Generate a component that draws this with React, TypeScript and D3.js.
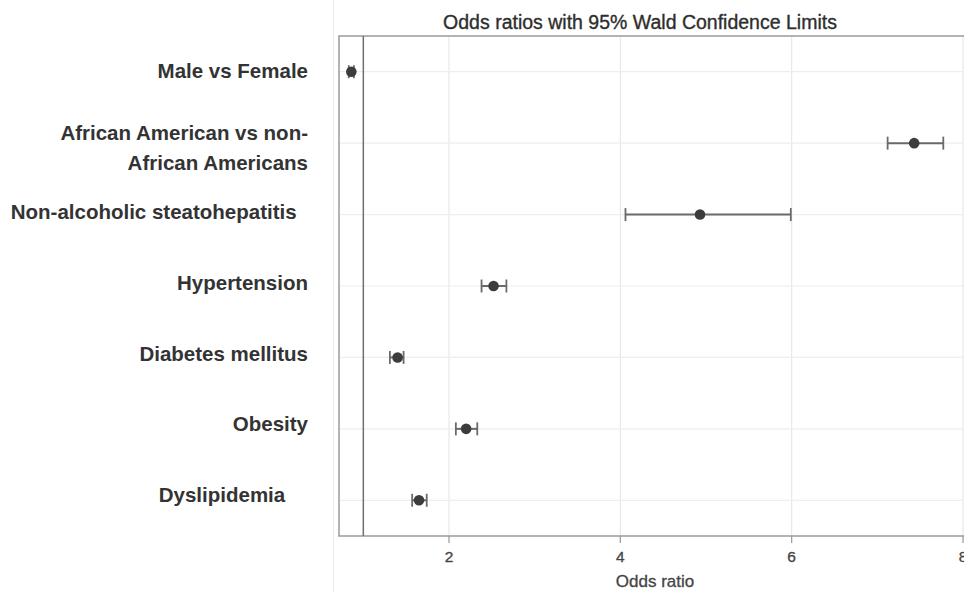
import React from "react";
import * as d3 from "d3";

const categories: string[][] = [
  ["Male vs Female"],
  ["African American vs non-", "African Americans"],
  ["Non-alcoholic steatohepatitis  "],
  ["Hypertension"],
  ["Diabetes mellitus"],
  ["Obesity"],
  ["Dyslipidemia    "],
];
const oddsRatio: number[] = [0.86, 7.43, 4.93, 2.52, 1.4, 2.2, 1.65];
const lowerCL: number[] = [0.83, 7.12, 4.06, 2.38, 1.31, 2.08, 1.57];
const upperCL: number[] = [0.89, 7.77, 5.99, 2.67, 1.47, 2.33, 1.74];
const xTicks: number[] = [2, 4, 6, 8];
const refValue = 1;
const title = "Odds ratios with 95% Wald Confidence Limits";
const xLabel = "Odds ratio";

export default function App() {
  const W = 964;
  const H = 592;
  const left = 339;
  const right = 975;
  const top = 36;
  const bottom = 536;

  const x = d3.scaleLinear().domain([0.716, 8.14]).range([left, right]);
  const idx = categories.map((_, i) => i);
  const y = d3.scalePoint<number>().domain(idx).range([top, bottom]).padding(0.5);
  const yLab = d3.scalePoint<number>().domain(idx).range([35.5, 530.5]).padding(0.5);

  const font = "'Liberation Sans', Arial, Helvetica, sans-serif";

  return (
    <svg width={W} height={H} style={{ display: "block", position: "absolute", left: 0, top: 0, background: "#fff" }}>
      <rect x={0} y={0} width={W} height={H} fill="#ffffff" />
      <line x1={333.5} x2={333.5} y1={0} y2={H} stroke="#ececec" strokeWidth={1} />
      {/* title */}
      <text x={640} y={29} textAnchor="middle" fontFamily={font} fontSize={19.5} fill="#2e2e2e" stroke="#2e2e2e" strokeWidth={0.35}>
        {title}
      </text>
      {/* gridlines */}
      {xTicks.map((t) => (
        <line key={"vg" + t} x1={x(t)} x2={x(t)} y1={top} y2={bottom} stroke="#e8e8e8" strokeWidth={1.2} />
      ))}
      {idx.map((i) => (
        <line key={"hg" + i} x1={left} x2={right} y1={y(i)!} y2={y(i)!} stroke="#eeeeee" strokeWidth={1.2} />
      ))}
      {/* frame */}
      <rect x={left} y={top} width={right - left + 20} height={bottom - top} fill="none" stroke="#9a9a9a" strokeWidth={1.5} />
      {/* reference line */}
      <line x1={x(refValue)} x2={x(refValue)} y1={top} y2={bottom} stroke="#707070" strokeWidth={1.5} />
      {/* CI bars and points */}
      {idx.map((i) => {
        const cy = y(i)!;
        const x0 = x(lowerCL[i]);
        const x1 = x(upperCL[i]);
        return (
          <g key={"pt" + i}>
            <line x1={x0} x2={x1} y1={cy} y2={cy} stroke="#6a6a6a" strokeWidth={2} />
            <line x1={x0} x2={x0} y1={cy - 6.5} y2={cy + 6.5} stroke="#6a6a6a" strokeWidth={1.8} />
            <line x1={x1} x2={x1} y1={cy - 6.5} y2={cy + 6.5} stroke="#6a6a6a" strokeWidth={1.8} />
            <circle cx={x(oddsRatio[i])} cy={cy} r={5.3} fill="#3c3c3c" />
          </g>
        );
      })}
      {/* x axis */}
      {xTicks.map((t) => (
        <g key={"xt" + t}>
          <line x1={x(t)} x2={x(t)} y1={bottom} y2={bottom + 7} stroke="#999" strokeWidth={1.2} />
          <text x={x(t)} y={bottom + 26} textAnchor="middle" fontFamily={font} fontSize={15.5} fill="#444" stroke="#444" strokeWidth={0.3}>
            {t}
          </text>
        </g>
      ))}
      <text x={655} y={587} textAnchor="middle" fontFamily={font} fontSize={17} fill="#444" stroke="#444" strokeWidth={0.3}>
        {xLabel}
      </text>
      {/* category labels */}
      {idx.map((i) => {
        const lines = categories[i];
        const cy = yLab(i)!;
        return (
          <text
            key={"lab" + i}
            textAnchor="end"
            fontFamily={font}
            fontSize={20.5}
            fontWeight="bold"
            fill="#333"
            style={{ whiteSpace: "pre" }}
          >
            {lines.map((s, k) => (
              <tspan key={k} x={308} y={lines.length > 1 ? cy - 9 + k * 30 + 7 : cy + 7}>
                {s}
              </tspan>
            ))}
          </text>
        );
      })}
    </svg>
  );
}
